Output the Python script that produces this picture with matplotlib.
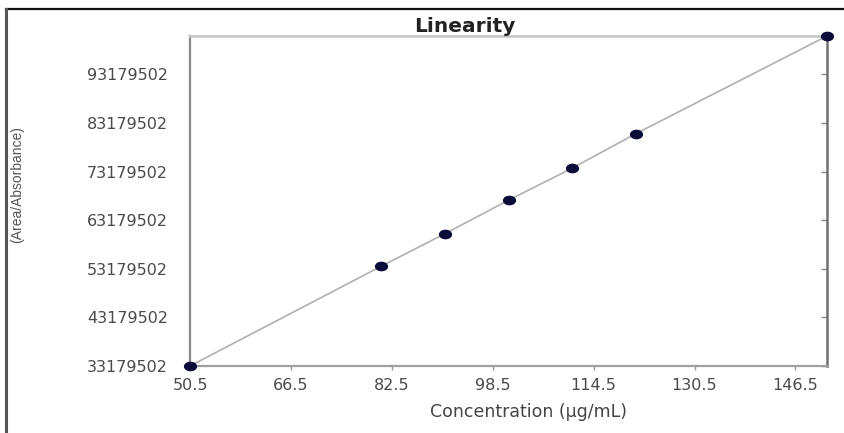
import matplotlib
matplotlib.use("Agg")
import matplotlib.pyplot as plt
import numpy as np
from matplotlib.path import Path
from matplotlib.lines import Line2D

# Data
concentration = [50.5, 80.8, 90.9, 101.0, 111.1, 121.2, 151.5]
response = [33179502, 53700000, 60400000, 67300000, 73900000, 81000000, 101100000]
x_ticks = [50.5, 66.5, 82.5, 98.5, 114.5, 130.5, 146.5]
y_ticks = [33179502, 43179502, 53179502, 63179502, 73179502, 83179502, 93179502]
title = "Linearity"
x_label = "Concentration (µg/mL)"
y_label = "(Area/Absorbance)"

W, H = 844, 433
fig = plt.figure(figsize=(W / 100, H / 100), dpi=100)
fig.patch.set_facecolor("white")

left, right, bottom, top = 190, 827, 366, 36
ax = fig.add_axes([left / W, 1 - bottom / H, (right - left) / W, (bottom - top) / H])

# ellipse marker
circ = Path.unit_circle()
ell = Path(circ.vertices * np.array([1.0, 0.7]), circ.codes)

ax.plot(concentration, response, color="#b0b0b0", lw=1.2, zorder=2, solid_capstyle="butt")
ax.plot(concentration, response, linestyle="none", marker=ell, ms=8.5,
        color="#0c0c3a", zorder=3, clip_on=False)

ax.set_xlim(concentration[0], concentration[-1])
ax.set_ylim(response[0], response[-1])
ax.set_xticks(x_ticks)
ax.set_xticklabels([f"{v:.1f}" for v in x_ticks])
ax.set_yticks(y_ticks)
ax.set_yticklabels([str(v) for v in y_ticks])

for lab in ax.get_xticklabels() + ax.get_yticklabels():
    lab.set_fontfamily("DejaVu Sans")
    lab.set_fontsize(11.5)
    lab.set_color("#4a4a4a")

ax.tick_params(axis="x", direction="out", length=3, width=1, color="#999999", pad=6)
ax.tick_params(axis="y", left=False, right=True, labelleft=True, labelright=False,
               direction="in", length=4, width=1, color="#888888", pad=16)

ax.spines["left"].set_color("#8a8a8a")
ax.spines["left"].set_linewidth(1.6)
ax.spines["bottom"].set_color("#a0a0a0")
ax.spines["bottom"].set_linewidth(1.6)
ax.spines["top"].set_color("#c4c4c4")
ax.spines["top"].set_linewidth(1.8)
ax.spines["right"].set_color("#707070")
ax.spines["right"].set_linewidth(1.8)

fig.text(465 / W, 1 - 27 / H, title, ha="center", va="center",
         fontsize=14.5, fontweight="bold", family="DejaVu Sans", color="#222222")
fig.text(529 / W, 1 - 412 / H, x_label, ha="center", va="center",
         fontsize=12.5, family="DejaVu Sans", color="#444444")
fig.text(17 / W, 1 - 185 / H, y_label, ha="center", va="center", rotation=90,
         fontsize=10, family=["Liberation Sans", "DejaVu Sans"], color="#555555")

# outer border (top and left edges of the screenshot)
fig.add_artist(Line2D([6 / W, 1.0], [1 - 9 / H, 1 - 9 / H], transform=fig.transFigure,
                      color="#111111", lw=1.6))
fig.add_artist(Line2D([6 / W, 6 / W], [1 - 9 / H, 0.0], transform=fig.transFigure,
                      color="#555555", lw=2.2))

fig.savefig("out.png", dpi=100)
